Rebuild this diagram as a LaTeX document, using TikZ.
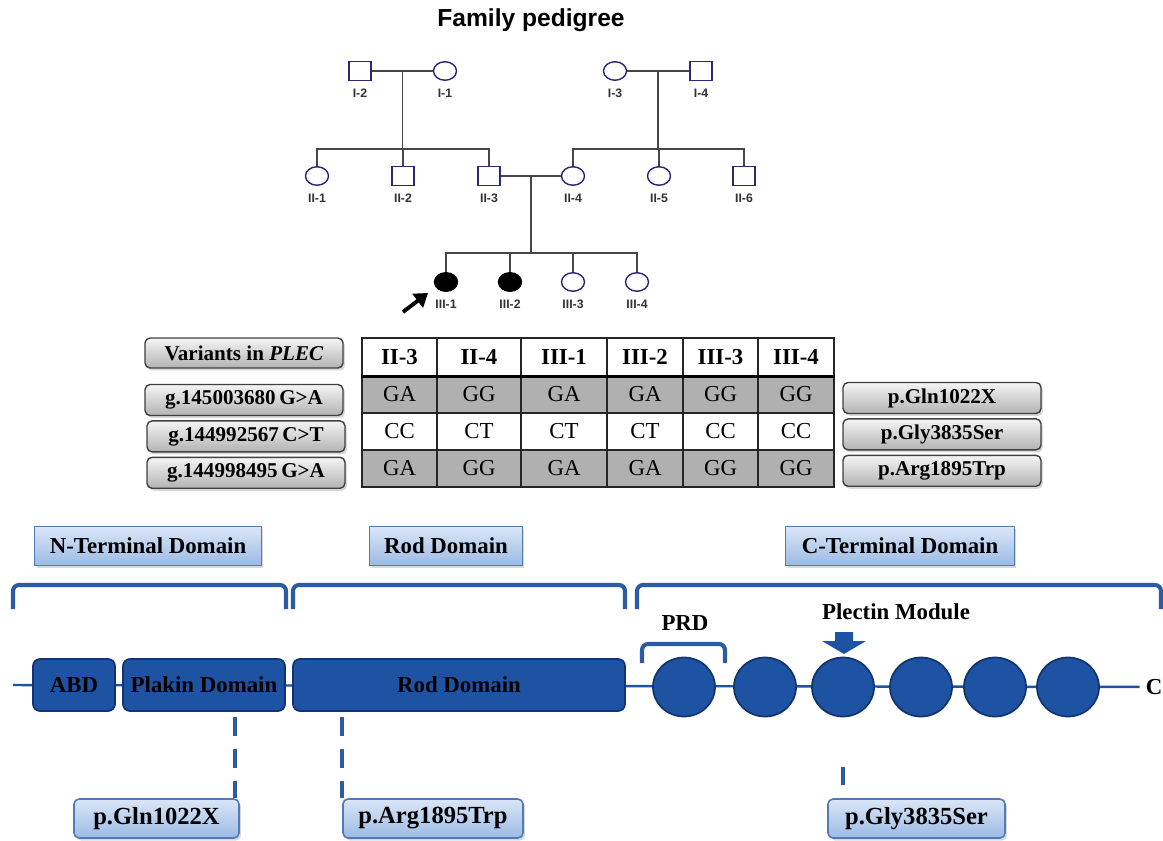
\documentclass[tikz,border=0pt]{standalone}
\usepackage{fontspec}
\setmainfont{Liberation Serif}
\newfontfamily\pedfont{Liberation Sans}
\usepackage{xcolor}
\usepackage{tikz}
\usetikzlibrary{arrows.meta,shapes.geometric,shadows,calc,positioning}
\definecolor{domblue}{RGB}{30,82,162}
\definecolor{domedge}{RGB}{18,52,112}
\definecolor{brkblue}{RGB}{44,90,164}
\definecolor{lblue}{RGB}{218,230,247}
\definecolor{mblue}{RGB}{156,186,228}
\definecolor{lblueedge}{RGB}{84,122,182}
\definecolor{kincol}{RGB}{70,70,70}
\definecolor{pednavy}{RGB}{40,40,120}
\definecolor{cellgrey}{RGB}{176,176,176}
\newcommand{\fsz}[1]{\fontsize{#1}{#1}\selectfont}

\begin{document}
\begin{tikzpicture}[x=0.02cm, y=-0.02cm,
  male/.style={rectangle, draw=pednavy, line width=0.8pt, minimum width=4.4mm, minimum height=3.7mm, inner sep=0pt, fill=white},
  female/.style={ellipse, draw=pednavy, line width=0.8pt, minimum width=4.6mm, minimum height=3.7mm, inner sep=0pt, fill=white},
  affected/.style={female, draw=black, fill=black},
  pedlab/.style={font=\pedfont\bfseries\fsz{7}, text=black!80, inner sep=0pt},
  kin/.style={draw=kincol, line width=0.8pt},
  proband/.style={draw=black, line width=2.2pt, -{Triangle[length=2.6mm,width=3.4mm]}},
  cell/.style={rectangle, draw=black!85, line width=0.9pt, minimum height=7.4mm, inner sep=0pt, font=\fsz{13}},
  greybox/.style={rectangle, rounded corners=1mm, draw=black!75, line width=0.8pt, top color=gray!8, bottom color=gray!60, minimum height=6.2mm, minimum width=39.6mm, inner sep=0pt, font=\bfseries\fsz{12}, drop shadow={opacity=0.3, shadow xshift=0.4mm, shadow yshift=-0.5mm}},
  domlabel/.style={rectangle, draw=lblueedge, line width=0.9pt, top color=lblue, bottom color=mblue, minimum height=7.8mm, inner sep=0pt, font=\bfseries\fsz{13}, drop shadow={opacity=0.3, shadow xshift=0.4mm, shadow yshift=-0.5mm}},
  mutbox/.style={domlabel, rounded corners=1mm, font=\bfseries\fsz{14}},
  brace/.style={draw=brkblue, line width=2.3pt, rounded corners=1.2mm},
  dombox/.style={rectangle, rounded corners=1.4mm, draw=domedge, line width=1pt, fill=domblue, minimum height=10.4mm, inner sep=0pt, font=\bfseries\fsz{13}},
  module/.style={ellipse, draw=domedge, line width=1pt, fill=domblue, minimum width=12.4mm, minimum height=11.8mm, inner sep=0pt},
  backbone/.style={draw=domblue, line width=1.4pt},
  mutline/.style={draw=brkblue, line width=2.2pt, dash pattern=on 3.8mm off 2.6mm}]

\fill[white] (0,0) rectangle (1163,841);
\useasboundingbox (0,0) rectangle (1163,841);

% pedigree
\node[font=\pedfont\bfseries\fsz{14}] (title) at (531,20) {Family pedigree};

\node[male] (i2) at (360,71) {};
\node[female] (i1) at (445,71) {};
\node[female] (i3) at (615,71) {};
\node[male] (i4) at (701,71) {};

\foreach \n/\s/\x in {ii1/female/317, ii2/male/403, ii3/male/489, ii4/female/573, ii5/female/659, ii6/male/744}
  \node[\s] (\n) at (\x,176) {};

\foreach \n/\s/\x in {iii1/affected/446, iii2/affected/510, iii3/female/573, iii4/female/637}
  \node[\s] (\n) at (\x,282) {};

\foreach \n/\t in {i2/I-2, i1/I-1, i3/I-3, i4/I-4, ii1/II-1, ii2/II-2, ii3/II-3, ii4/II-4, ii5/II-5, ii6/II-6, iii1/III-1, iii2/III-2, iii3/III-3, iii4/III-4}
  \node[pedlab, below=1.5mm of \n] (\n lab) {\t};

\coordinate (m1) at ($(i2)!0.5!(i1)$);
\coordinate (s1) at ($(m1)+(0,78)$);
\coordinate (m2) at ($(i3)!0.5!(i4)$);
\coordinate (s2) at ($(m2)+(0,78)$);
\coordinate (m3) at ($(ii3)!0.5!(ii4)$);
\coordinate (s3) at ($(m3)+(0,77)$);

\draw[kin] (i2) -- (i1);
\draw[kin] (m1) -- (s1);
\draw[kin] (ii1.north) |- (s1) -| (ii3.north);
\draw[kin] (s1) -- (s1 -| ii2) -- (ii2.north);
\draw[kin] (i3) -- (i4);
\draw[kin] (m2) -- (s2);
\draw[kin] (ii4.north) |- (s2) -| (ii6.north);
\draw[kin] (s2) -- (s2 -| ii5) -- (ii5.north);
\draw[kin] (ii3) -- (ii4);
\draw[kin] (m3) -- (s3);
\draw[kin] (iii1.north) |- (s3) -| (iii4.north);
\draw[kin] (iii2 |- s3) -- (iii2.north);
\draw[kin] (iii3 |- s3) -- (iii3.north);

\coordinate (ptail) at (403,312);
\coordinate (ptip) at (428,293);
\draw[proband] (ptail) -- (ptip);

% genotype table
\foreach \xa/\xb/\id/\ga/\gb/\gc [count=\k] in {362/437/II-3/GA/CC/GA, 437/521/II-4/GG/CT/GG, 521/607/III-1/GA/CT/GA, 607/683/III-2/GA/CT/GA, 683/758/III-3/GG/CC/GG, 758/834/III-4/GG/CC/GG}
{
  \node[cell, minimum width={(\xb-\xa)*0.2mm}, minimum height=7.6mm, font=\bfseries\fsz{13}] (h\k) at ({(\xa+\xb)/2},357) {\id};
  \node[cell, minimum width={(\xb-\xa)*0.2mm}, fill=cellgrey] (a\k) at ({(\xa+\xb)/2},394.5) {\ga};
  \node[cell, minimum width={(\xb-\xa)*0.2mm}] (b\k) at ({(\xa+\xb)/2},431.5) {\gb};
  \node[cell, minimum width={(\xb-\xa)*0.2mm}, fill=cellgrey] (c\k) at ({(\xa+\xb)/2},468.5) {\gc};
}
\draw[line width=1.8pt] (h1.south west) -- (h6.south east);

\node[greybox, minimum height=6mm] (varhead) at (244,353) {Variants in \textit{PLEC}};
\node[greybox] (g1) at (244,400) {g.145003680\,G>A};
\node[greybox, below=0.8mm of g1, xshift=0.4mm] (g2) {g.144992567\,C>T};
\node[greybox, below=0.8mm of g2] (g3) {g.144998495\,G>A};

\node[greybox] (p1) at (942,398) {p.Gln1022X};
\node[greybox, below=0.8mm of p1] (p2) {p.Gly3835Ser};
\node[greybox, below=0.8mm of p2] (p3) {p.Arg1895Trp};

% protein domains
\node[domlabel, minimum width=45.4mm] (nterm) at (148,546) {N-Terminal Domain};
\node[domlabel, minimum width=30.6mm] (rodlab) at (446,546) {Rod Domain};
\node[domlabel, minimum width=45.8mm] (cterm) at (900,546) {C-Terminal Domain};

\draw[brace] (13,609) -- (13,585) -- (286,585) -- (286,609);
\draw[brace] (293,609) -- (293,585) -- (625,585) -- (625,609);
\draw[brace] (637,609) -- (637,585) -- (1161,585) -- (1161,609);

\node[font=\bfseries\fsz{13}] (prd) at (685,623) {PRD};
\draw[brace] (642,663) -- (642,644) -- (725,644) -- (725,663);
\node[font=\bfseries\fsz{13}] (plectin) at (896,612) {Plectin Module};
\fill[domblue] (835,632) -- (853,632) -- (853,641) -- (866,641) -- (844,654) -- (822,641) -- (835,641) -- cycle;

\coordinate (nend) at (13,685);
\node[font=\bfseries\fsz{13}] (cend) at (1154,687) {C};
\draw[backbone] (nend) -- (cend);

\node[dombox, minimum width=16.4mm] (abd) at (74,685) {ABD};
\node[dombox, minimum width=32.4mm] (plakin) at (204,685) {Plakin Domain};
\node[dombox, minimum width=66.4mm] (rod) at (459,685) {Rod Domain};
\foreach \x [count=\k] in {684,765,843,921,995,1068}
  \node[module] (mod\k) at (\x,687) {};

\node[mutbox, minimum width=33mm] (gln) at (156.5,818.5) {p.Gln1022X};
\node[mutbox, minimum width=36mm] (arg) at (433,818.5) {p.Arg1895Trp};
\node[mutbox, minimum width=35.4mm] (gly) at (916.5,818.5) {p.Gly3835Ser};

\coordinate (q1) at (235,717);
\coordinate (q2) at (342,717);
\draw[mutline] (q1) -- (q1 |- gln.north);
\draw[mutline] (q2) -- (q2 |- arg.north);
\draw[mutline, dash pattern=on 0mm off 10mm on 3.6mm off 10mm] (mod3.south) -- (mod3.south |- gly.north);
\end{tikzpicture}
\end{document}
